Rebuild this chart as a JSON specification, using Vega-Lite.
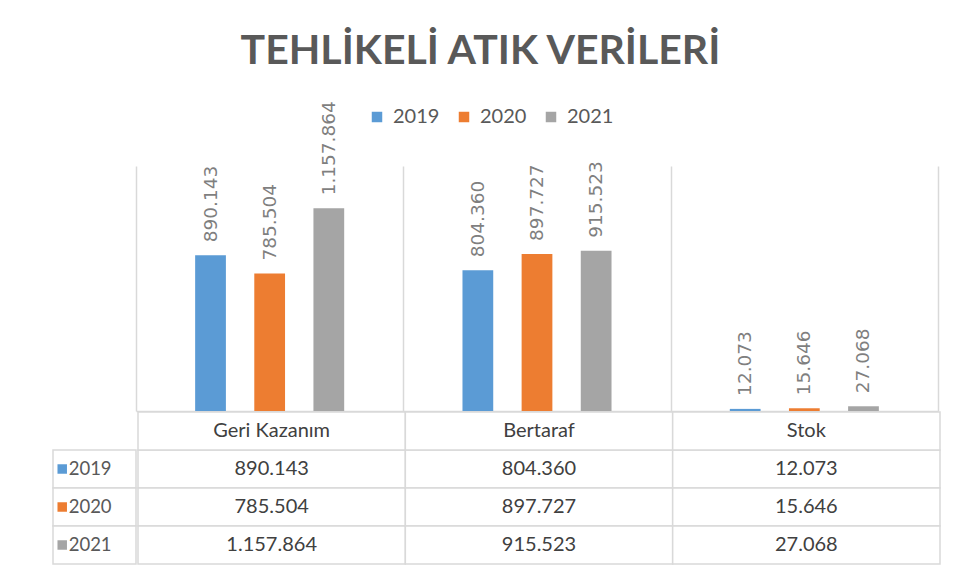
{
  "$schema": "https://vega.github.io/schema/vega-lite/v6.json",
  "background": "white",
  "padding": {"left": 52, "top": 31, "right": 10, "bottom": 5},
  "config": {
    "locale": {"number": {"decimal": ",", "thousands": ".", "grouping": [3], "currency": ["", " TL"]}},
    "view": {"stroke": null},
    "font": "Lato"
  },
  "title": {
    "text": "TEHLİKELİ ATIK VERİLERİ",
    "font": "Lato",
    "fontSize": 41,
    "fontWeight": "bold",
    "color": "#595959",
    "anchor": "middle",
    "dx": -16,
    "offset": 28
  },
  "datasets": {
    "vals": [
      {"cat": "Geri Kazanım", "year": "2019", "value": 890143},
      {"cat": "Geri Kazanım", "year": "2020", "value": 785504},
      {"cat": "Geri Kazanım", "year": "2021", "value": 1157864},
      {"cat": "Bertaraf", "year": "2019", "value": 804360},
      {"cat": "Bertaraf", "year": "2020", "value": 897727},
      {"cat": "Bertaraf", "year": "2021", "value": 915523},
      {"cat": "Stok", "year": "2019", "value": 12073},
      {"cat": "Stok", "year": "2020", "value": 15646},
      {"cat": "Stok", "year": "2021", "value": 27068}
    ]
  },
  "spacing": 0,
  "resolve": {"scale": {"x": "independent", "y": "independent"}},
  "vconcat": [
    {
      "width": 885,
      "height": 245,
      "data": {"name": "vals"},
      "encoding": {
        "x": {"field": "cat", "type": "nominal", "sort": null,
              "scale": {"range": [83, 885], "paddingInner": 0, "paddingOuter": 0},
              "axis": {"title": null, "labels": false, "ticks": false, "domain": true, "domainColor": "#d9d9d9", "domainWidth": 1.5, "grid": true, "gridColor": "#d9d9d9", "gridWidth": 1.5, "tickBand": "extent"}},
        "xOffset": {"field": "year", "type": "nominal", "scale": {"paddingInner": 0.48, "paddingOuter": 1.22}},
        "y": {"field": "value", "type": "quantitative", "scale": {"domain": [0, 1400000]}, "axis": null}
      },
      "layer": [
        {
          "mark": {"type": "bar"},
          "encoding": {
            "color": {"field": "year", "type": "nominal",
                      "scale": {"domain": ["2019", "2020", "2021"], "range": ["#5B9BD5", "#ED7D31", "#A5A5A5"]},
                      "legend": {"title": null, "orient": "none", "direction": "horizontal", "legendX": 314, "legendY": -59,
                                 "symbolType": "square", "symbolSize": 110, "symbolStrokeWidth": 0,
                                 "labelFontSize": 20, "labelColor": "#595959", "labelFont": "Lato",
                                 "columnPadding": 14, "labelOffset": 6}}
          }
        },
        {
          "mark": {"type": "text", "angle": 270, "align": "left", "baseline": "middle", "dx": 13,
                   "font": "DejaVu Sans", "fontSize": 18.5, "color": "#7f7f7f"},
          "encoding": {"text": {"field": "value", "type": "quantitative", "format": ",d"}}
        }
      ]
    },
    {
      "spacing": 0,
      "resolve": {"scale": {"x": "independent", "y": "independent"}},
      "hconcat": [
        {
          "width": 83,
          "height": 152,
          "data": {"name": "vals"},
          "transform": [{"filter": "datum.cat == 'Stok'"}],
          "encoding": {
            "y": {"field": "year", "type": "nominal", "scale": {"domain": ["H", "2019", "2020", "2021"], "paddingInner": 0, "paddingOuter": 0}, "axis": null}
          },
          "layer": [
            {"mark": {"type": "rect", "fill": "white", "stroke": "#d9d9d9", "strokeWidth": 1.5}},
            {"mark": {"type": "square", "filled": true, "size": 90, "opacity": 1},
             "encoding": {"x": {"datum": 10, "type": "quantitative", "scale": {"domain": [0, 83]}, "axis": null},
                          "color": {"field": "year", "type": "nominal", "legend": null}}},
            {"mark": {"type": "text", "align": "left", "baseline": "middle", "fontSize": 18.5, "color": "#595959", "font": "Lato"},
             "encoding": {"x": {"datum": 17, "type": "quantitative"}, "text": {"field": "year"}}}
          ]
        },
        {
          "width": 802,
          "height": 152,
          "data": {"name": "vals"},
          "encoding": {
            "x": {"field": "cat", "type": "nominal", "sort": null, "scale": {"paddingInner": 0, "paddingOuter": 0}, "axis": null}
          },
          "layer": [
            {"mark": {"type": "rect", "fill": "white", "stroke": "#d9d9d9", "strokeWidth": 1.5},
             "encoding": {"y": {"field": "year", "type": "nominal", "scale": {"domain": ["H", "2019", "2020", "2021"], "paddingInner": 0, "paddingOuter": 0}, "axis": null}}},
            {"transform": [{"filter": "datum.year == '2019'"}],
             "mark": {"type": "rect", "fill": "white", "stroke": "#d9d9d9", "strokeWidth": 1.5},
             "encoding": {"y": {"datum": "H", "type": "nominal"}}},
            {"mark": {"type": "text", "baseline": "middle", "fontSize": 20, "color": "#404040", "font": "Lato"},
             "encoding": {"y": {"field": "year", "type": "nominal"}, "text": {"field": "value", "type": "quantitative", "format": ",d"}}},
            {"transform": [{"filter": "datum.year == '2019'"}],
             "mark": {"type": "text", "baseline": "middle", "fontSize": 20, "color": "#404040", "font": "Lato"},
             "encoding": {"y": {"datum": "H", "type": "nominal"}, "text": {"field": "cat"}}}
          ]
        }
      ]
    }
  ]
}
